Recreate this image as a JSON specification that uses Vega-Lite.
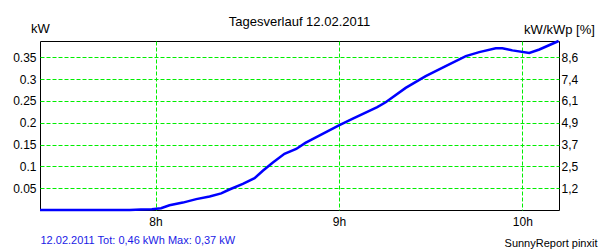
{
  "$schema": "https://vega.github.io/schema/vega-lite/v6.json",
  "width": 519,
  "height": 169,
  "autosize": "none",
  "padding": {"left": 40, "top": 41, "right": 41, "bottom": 40},
  "background": "white",
  "title": {"text": "Tagesverlauf 12.02.2011", "fontSize": 13, "font": "Liberation Sans", "fontWeight": "normal", "anchor": "middle", "baseline": "alphabetic", "offset": -17, "color": "black"},
  "config": {
    "font": "Liberation Sans",
    "view": {"stroke": "black", "strokeWidth": 1},
    "axis": {"labelFont": "Liberation Sans", "titleFont": "Liberation Sans", "labelColor": "black", "titleColor": "black", "gridColor": "#00ee00", "gridDash": [4, 2], "gridOpacity": 1, "gridWidth": 1, "domain": false, "ticks": false, "labelFontSize": 12, "titleFontWeight": "normal"}
  },
  "data": {"values": [
    {"h": 7.37, "kw": 0.0},
    {"h": 7.86, "kw": 0.0},
    {"h": 7.92, "kw": 0.001},
    {"h": 7.98, "kw": 0.002},
    {"h": 8.03, "kw": 0.004},
    {"h": 8.076, "kw": 0.011},
    {"h": 8.149, "kw": 0.017},
    {"h": 8.222, "kw": 0.025},
    {"h": 8.295, "kw": 0.031},
    {"h": 8.358, "kw": 0.038},
    {"h": 8.403, "kw": 0.047},
    {"h": 8.476, "kw": 0.06},
    {"h": 8.54, "kw": 0.073},
    {"h": 8.585, "kw": 0.09},
    {"h": 8.64, "kw": 0.109},
    {"h": 8.703, "kw": 0.129},
    {"h": 8.767, "kw": 0.14},
    {"h": 8.817, "kw": 0.154},
    {"h": 8.89, "kw": 0.17},
    {"h": 9.0, "kw": 0.194},
    {"h": 9.073, "kw": 0.209},
    {"h": 9.209, "kw": 0.236},
    {"h": 9.255, "kw": 0.247},
    {"h": 9.364, "kw": 0.28},
    {"h": 9.473, "kw": 0.307},
    {"h": 9.582, "kw": 0.33},
    {"h": 9.692, "kw": 0.353},
    {"h": 9.765, "kw": 0.362},
    {"h": 9.855, "kw": 0.371},
    {"h": 9.891, "kw": 0.371},
    {"h": 9.946, "kw": 0.366},
    {"h": 10.038, "kw": 0.36},
    {"h": 10.093, "kw": 0.368},
    {"h": 10.198, "kw": 0.3875}
  ]},
  "layer": [
    {
      "mark": {"type": "line", "color": "#0000ff", "strokeWidth": 2.5},
      "encoding": {
        "x": {"field": "h", "type": "quantitative", "scale": {"domain": [7.37, 10.2], "nice": false, "zero": false},
          "axis": {"values": [8, 9, 10], "labelExpr": "datum.value + 'h'", "grid": true, "labelPadding": 6, "labelFlush": false,
            "title": "12.02.2011 Tot: 0,46 kWh Max: 0,37 kW", "titleColor": "#1a1ae6", "titleFontSize": 11, "titleAnchor": "start", "titleAlign": "left", "titleX": 0, "titleY": 33, "titleBaseline": "alphabetic"}},
        "y": {"field": "kw", "type": "quantitative", "scale": {"domain": [0, 0.3875], "nice": false},
          "axis": {"values": [0.05, 0.1, 0.15, 0.2, 0.25, 0.3, 0.35], "format": ".2~f", "grid": true, "labelPadding": 4, "labelFlush": false,
            "title": "kW", "titleAngle": 0, "titleX": 0, "titleY": -9, "titleAlign": "center", "titleBaseline": "alphabetic", "titleFontSize": 13}}
      }
    },
    {
      "mark": {"type": "line", "opacity": 0},
      "encoding": {
        "x": {"field": "h", "type": "quantitative", "scale": {"domain": [7.37, 10.2], "nice": false, "zero": false},
          "axis": {"orient": "bottom", "labels": false, "grid": false,
            "title": "SunnyReport pinxit", "titleFontSize": 11, "titleAnchor": "end", "titleAlign": "right", "titleX": 557, "titleY": 36, "titleBaseline": "alphabetic"}},
        "y": {"field": "kw", "type": "quantitative", "scale": {"domain": [0, 0.3875], "nice": false},
          "axis": {"orient": "right", "values": [0.05, 0.1, 0.15, 0.2, 0.25, 0.3, 0.35], "labelExpr": "replace(format(datum.value*24.57,'.1f'),'.',',')", "grid": false, "labelPadding": 2, "labelFlush": false,
            "title": "kW/kWp [%]", "titleAngle": 0, "titleX": 0, "titleY": -8, "titleAlign": "center", "titleBaseline": "alphabetic", "titleFontSize": 13}}
      }
    }
  ],
  "resolve": {"scale": {"x": "independent", "y": "independent"}, "axis": {"x": "independent", "y": "independent"}}
}
